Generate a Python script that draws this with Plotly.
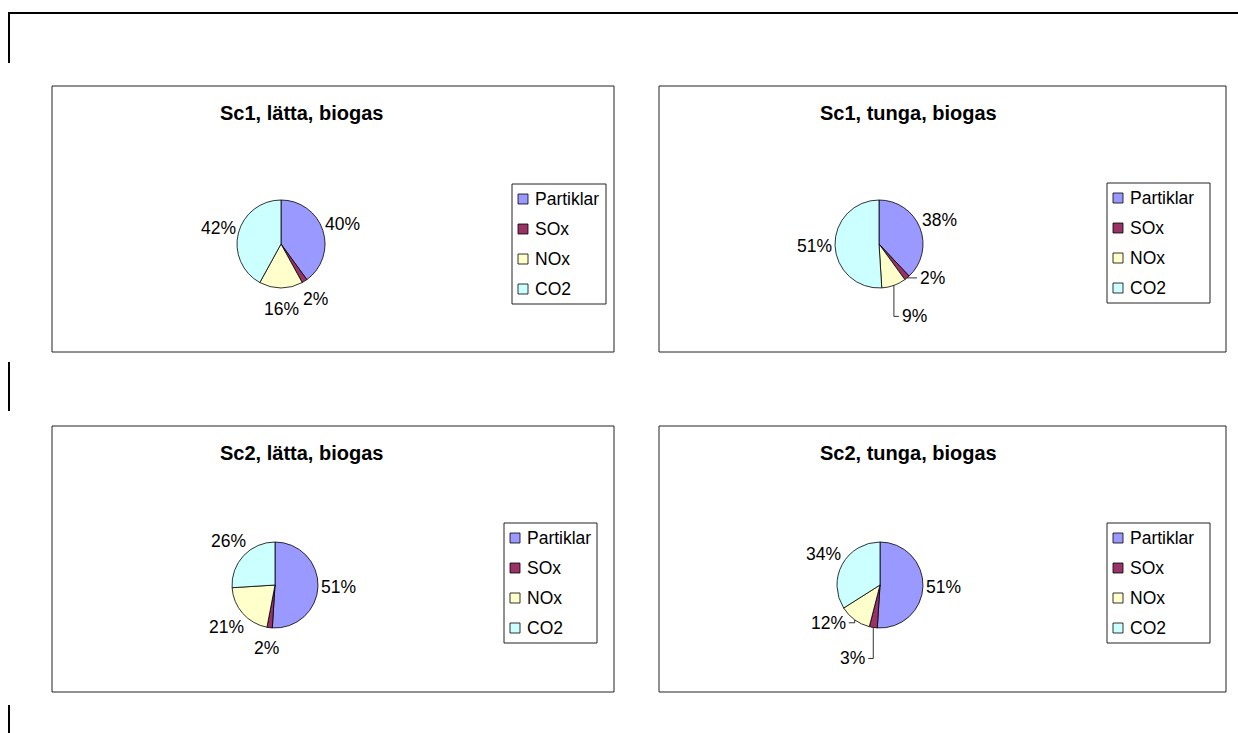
import math
import plotly.graph_objects as go

W, H = 1238, 733

# Emission shares per scenario (percent)
categories = ["Partiklar", "SOx", "NOx", "CO2"]
titles = ["Sc1, lätta, biogas", "Sc1, tunga, biogas", "Sc2, lätta, biogas", "Sc2, tunga, biogas"]
sc1_latta = [40, 2, 16, 42]
sc1_tunga = [38, 2, 9, 51]
sc2_latta = [51, 2, 21, 26]
sc2_tunga = [51, 3, 12, 34]
series = [sc1_latta, sc1_tunga, sc2_latta, sc2_tunga]

colors = ["#9999FF", "#993366", "#FFFFCC", "#CCFFFF"]
FONT = "Liberation Sans, Arial, sans-serif"

# Layout of each chart box (pixels): frame, pie centre/radius, title, legend box
panels = [
    dict(frame=(52, 86, 614, 352), center=(281, 244), r=44, title=(301, 113), legend=(512, 184, 606, 304)),
    dict(frame=(659, 86, 1226, 352), center=(879, 244), r=44, title=(908, 113), legend=(1107, 183, 1210, 303)),
    dict(frame=(52, 426, 614, 692), center=(275, 585), r=43, title=(301, 453), legend=(504, 523, 597, 643)),
    dict(frame=(659, 426, 1226, 692), center=(880, 585), r=43, title=(908, 453), legend=(1107, 523, 1210, 643)),
]

# Leader lines for crowded labels: (panel, slice) -> (dx, dy) elbow offset in pixels
leaders = {(1, 1): (10, 0), (1, 2): (5, 31), (3, 1): (-5, 31), (3, 2): (-6, 3)}


def px(x):
    return x / W


def py(y):
    return 1 - y / H


fig = go.Figure()
shapes = []
annotations = []

for i, (p, vals) in enumerate(zip(panels, series)):
    cx, cy = p["center"]
    r = p["r"]
    fig.add_trace(go.Pie(
        labels=categories,
        values=vals,
        sort=False,
        direction="clockwise",
        rotation=0,
        marker=dict(colors=colors, line=dict(color="#000000", width=0.8)),
        textinfo="none",
        hoverinfo="label+percent",
        showlegend=False,
        domain=dict(x=[px(cx - r), px(cx + r)], y=[py(cy + r), py(cy - r)]),
    ))

    # chart frame
    x0, y0, x1, y1 = p["frame"]
    shapes.append(dict(type="rect", xref="paper", yref="paper",
                       x0=px(x0), x1=px(x1), y0=py(y1), y1=py(y0),
                       line=dict(color="#222222", width=1), fillcolor="rgba(0,0,0,0)"))

    # title
    tx, ty = p["title"]
    annotations.append(dict(x=px(tx), y=py(ty), xref="paper", yref="paper",
                            text="<b>%s</b>" % titles[i], showarrow=False,
                            font=dict(family=FONT, size=20, color="#000000"),
                            xanchor="center", yanchor="middle"))

    # percentage labels placed at each slice's mid-angle
    total = float(sum(vals))
    cum = 0.0
    for j, v in enumerate(vals):
        mid = (cum + v / 2.0) / total
        cum += v
        ang = 2 * math.pi * mid
        ux, uy = math.sin(ang), -math.cos(ang)
        pct = "%d%%" % round(100 * v / total)
        if (i, j) in leaders:
            dx, dy = leaders[(i, j)]
            ex, ey = cx + ux * r, cy + uy * r
            path = "M %f,%f L %f,%f L %f,%f" % (
                px(ex), py(ey), px(ex), py(ey + dy), px(ex + dx), py(ey + dy))
            shapes.append(dict(type="path", xref="paper", yref="paper", path=path,
                               line=dict(color="#000000", width=0.8)))
            annotations.append(dict(x=px(ex + dx + (1 if dx > 0 else -1)), y=py(ey + dy),
                                    xref="paper", yref="paper", text=pct, showarrow=False,
                                    font=dict(family=FONT, size=17.5, color="#000000"),
                                    xanchor="left" if dx > 0 else "right", yanchor="middle"))
        else:
            d = r + 21
            annotations.append(dict(x=px(cx + ux * d), y=py(cy + uy * d),
                                    xref="paper", yref="paper", text=pct, showarrow=False,
                                    font=dict(family=FONT, size=17.5, color="#000000"),
                                    xanchor="center", yanchor="middle"))

    # legend box with swatches
    lx0, ly0, lx1, ly1 = p["legend"]
    shapes.append(dict(type="rect", xref="paper", yref="paper",
                       x0=px(lx0), x1=px(lx1), y0=py(ly1), y1=py(ly0),
                       line=dict(color="#222222", width=1), fillcolor="#FFFFFF"))
    step = (ly1 - ly0) / 4.0
    for j, name in enumerate(categories):
        yy = ly0 + step * (j + 0.5)
        shapes.append(dict(type="rect", xref="paper", yref="paper",
                           x0=px(lx0 + 6), x1=px(lx0 + 16), y0=py(yy + 5), y1=py(yy - 5),
                           line=dict(color="#000000", width=0.8), fillcolor=colors[j]))
        annotations.append(dict(x=px(lx0 + 21), y=py(yy), xref="paper", yref="paper",
                                text=name, showarrow=False,
                                font=dict(family=FONT, size=17.5, color="#000000"),
                                xanchor="left", yanchor="middle"))

# page border lines
shapes.append(dict(type="line", xref="paper", yref="paper",
                   x0=px(8), x1=px(1238), y0=py(13), y1=py(13),
                   line=dict(color="#000000", width=2)))
for (ya, yb) in [(13, 63), (362, 411), (705, 733)]:
    shapes.append(dict(type="line", xref="paper", yref="paper",
                       x0=px(9), x1=px(9), y0=py(ya), y1=py(yb),
                       line=dict(color="#000000", width=2)))

fig.update_layout(
    width=W, height=H,
    margin=dict(l=0, r=0, t=0, b=0),
    paper_bgcolor="#FFFFFF",
    plot_bgcolor="#FFFFFF",
    shapes=shapes,
    annotations=annotations,
    font=dict(family=FONT, color="#000000"),
)

fig.write_html("out.html")
